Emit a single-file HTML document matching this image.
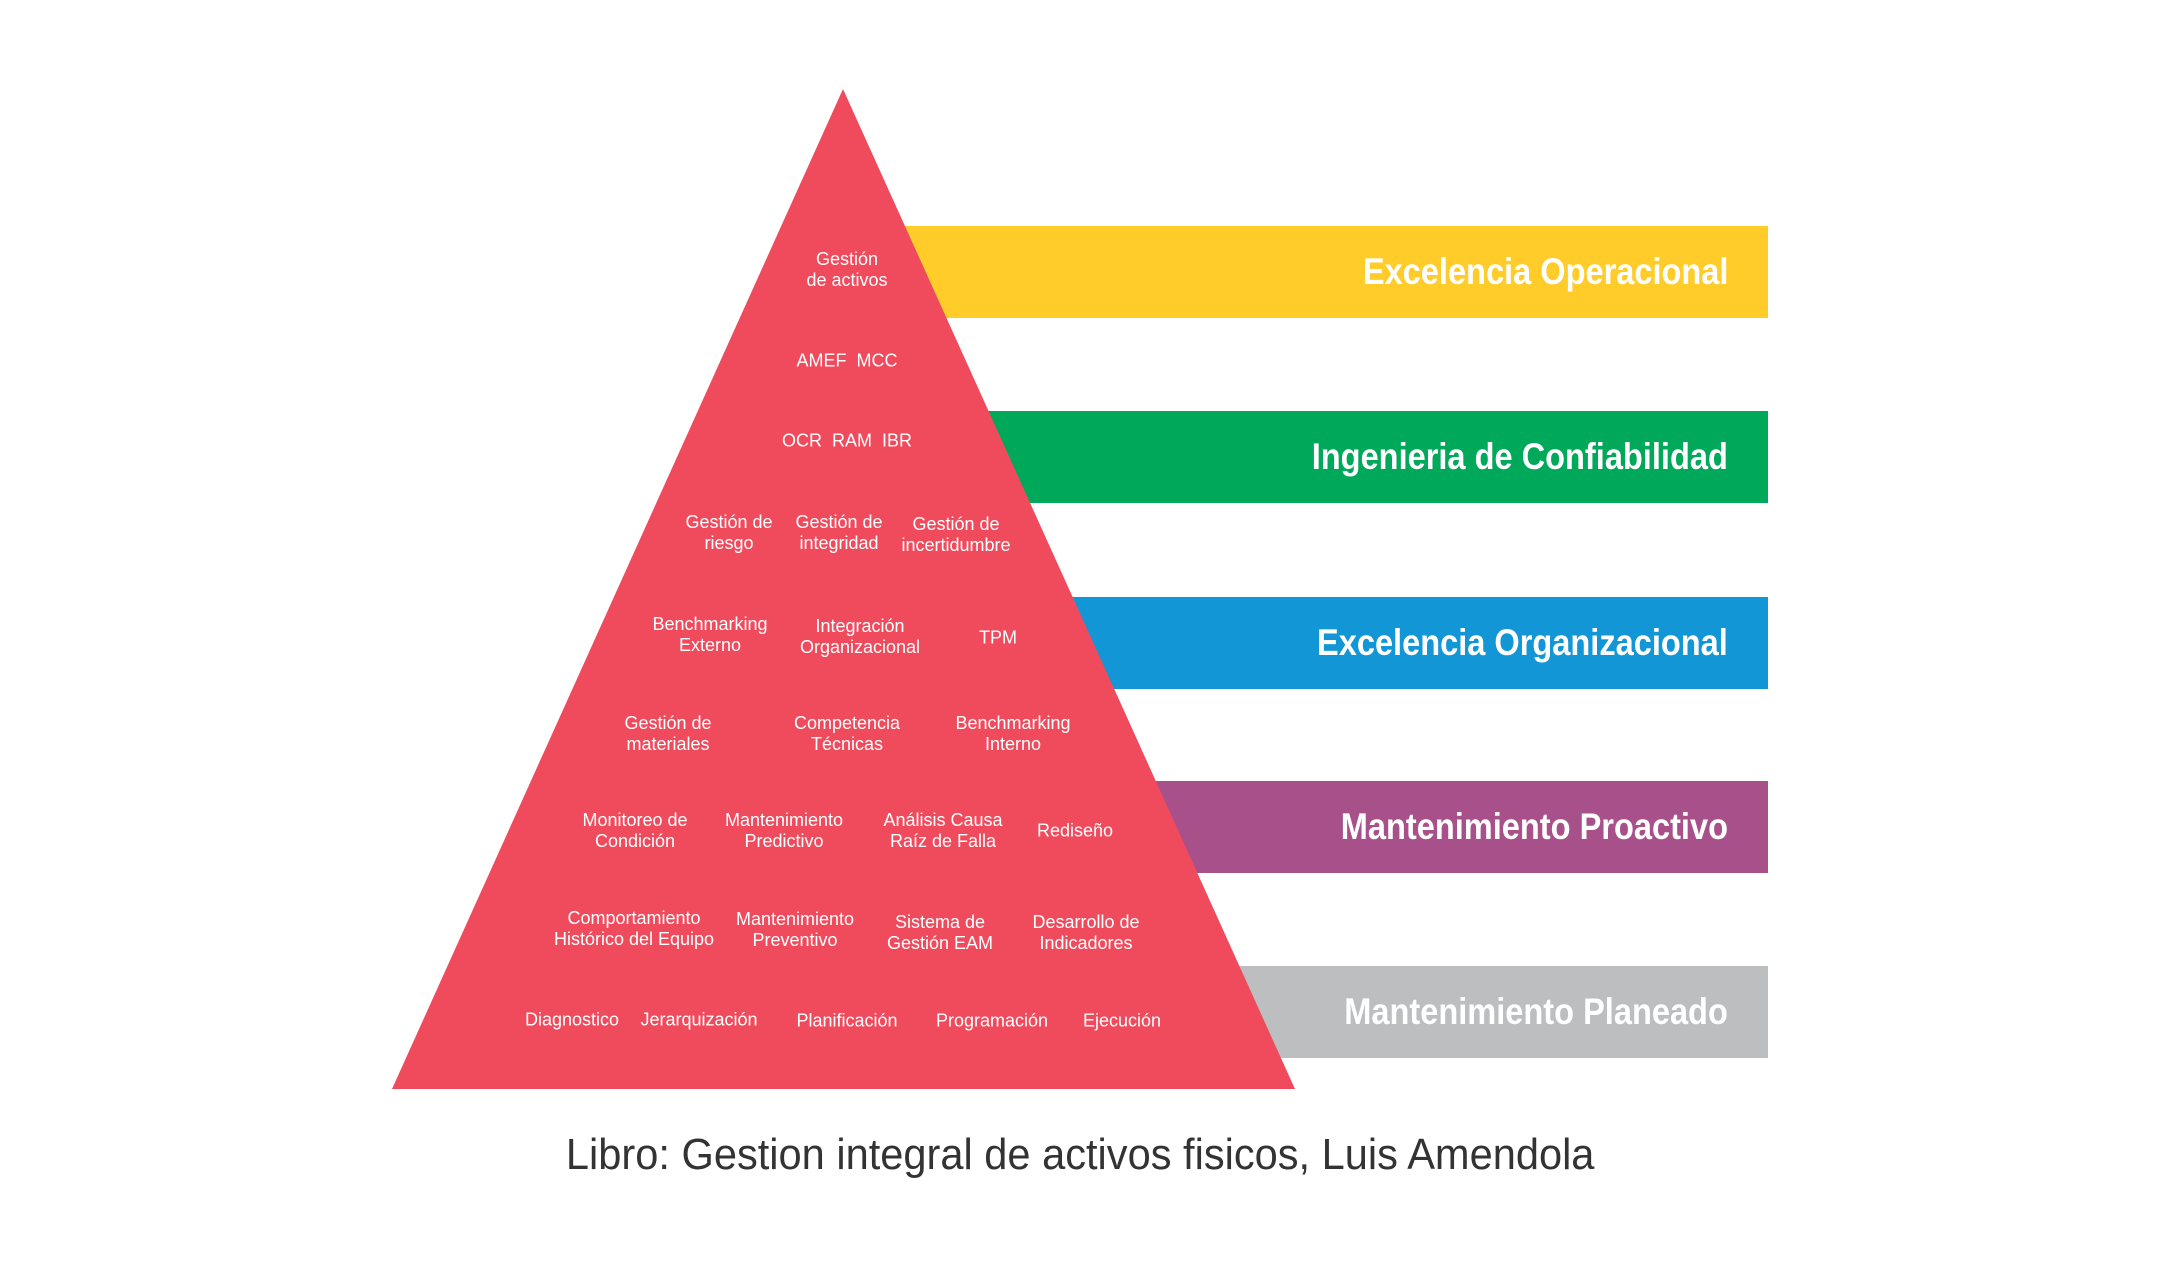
<!DOCTYPE html>
<html><head><meta charset="utf-8"><style>
html,body{margin:0;padding:0;background:#fff;}
#c{position:relative;width:2160px;height:1267px;overflow:hidden;font-family:"Liberation Sans",sans-serif;}
.bar{position:absolute;left:880px;width:888px;height:92px;}
.bt{position:absolute;right:40px;top:0;height:92px;line-height:92px;color:#fff;font-weight:bold;font-size:37px;white-space:nowrap;transform:scaleX(0.88);transform-origin:right center;}
.t{position:absolute;transform:translate(-50%,-50%);color:#fff;font-size:18px;line-height:21px;text-align:center;white-space:nowrap;}
svg{position:absolute;left:0;top:0;}
</style></head><body><div id="c">
<div class="bar" style="top:226px;background:#FFCC29"><div class="bt">Excelencia Operacional</div></div>
<div class="bar" style="top:411px;background:#00A859"><div class="bt">Ingenieria de Confiabilidad</div></div>
<div class="bar" style="top:597px;background:#1296D6"><div class="bt">Excelencia Organizacional</div></div>
<div class="bar" style="top:781px;background:#A8508A"><div class="bt">Mantenimiento Proactivo</div></div>
<div class="bar" style="top:966px;background:#BDBEC0"><div class="bt">Mantenimiento Planeado</div></div>
<svg width="2160" height="1267"><polygon points="843,89 392,1089 1295,1089" fill="#EF4B5D"/></svg>
<div class="t" style="left:847px;top:270px">Gestión<br>de activos</div>
<div class="t" style="left:847px;top:361px">AMEF&nbsp; MCC</div>
<div class="t" style="left:847px;top:441px">OCR&nbsp; RAM&nbsp; IBR</div>
<div class="t" style="left:729px;top:533px">Gestión de<br>riesgo</div>
<div class="t" style="left:839px;top:533px">Gestión de<br>integridad</div>
<div class="t" style="left:956px;top:535px">Gestión de<br>incertidumbre</div>
<div class="t" style="left:710px;top:635px">Benchmarking<br>Externo</div>
<div class="t" style="left:860px;top:637px">Integración<br>Organizacional</div>
<div class="t" style="left:998px;top:638px">TPM</div>
<div class="t" style="left:668px;top:734px">Gestión de<br>materiales</div>
<div class="t" style="left:847px;top:734px">Competencia<br>Técnicas</div>
<div class="t" style="left:1013px;top:734px">Benchmarking<br>Interno</div>
<div class="t" style="left:635px;top:831px">Monitoreo de<br>Condición</div>
<div class="t" style="left:784px;top:831px">Mantenimiento<br>Predictivo</div>
<div class="t" style="left:943px;top:831px">Análisis Causa<br>Raíz de Falla</div>
<div class="t" style="left:1075px;top:831px">Rediseño</div>
<div class="t" style="left:634px;top:929px">Comportamiento<br>Histórico del Equipo</div>
<div class="t" style="left:795px;top:930px">Mantenimiento<br>Preventivo</div>
<div class="t" style="left:940px;top:933px">Sistema de<br>Gestión EAM</div>
<div class="t" style="left:1086px;top:933px">Desarrollo de<br>Indicadores</div>
<div class="t" style="left:572px;top:1020px">Diagnostico</div>
<div class="t" style="left:699px;top:1020px">Jerarquización</div>
<div class="t" style="left:847px;top:1021px">Planificación</div>
<div class="t" style="left:992px;top:1021px">Programación</div>
<div class="t" style="left:1122px;top:1021px">Ejecución</div>
<div style="position:absolute;left:0;width:2160px;top:1130px;text-align:center;font-size:44px;color:#333;"><span style="display:inline-block;transform:scaleX(0.945)">Libro: Gestion integral de activos fisicos, Luis Amendola</span></div>
</div></body></html>
